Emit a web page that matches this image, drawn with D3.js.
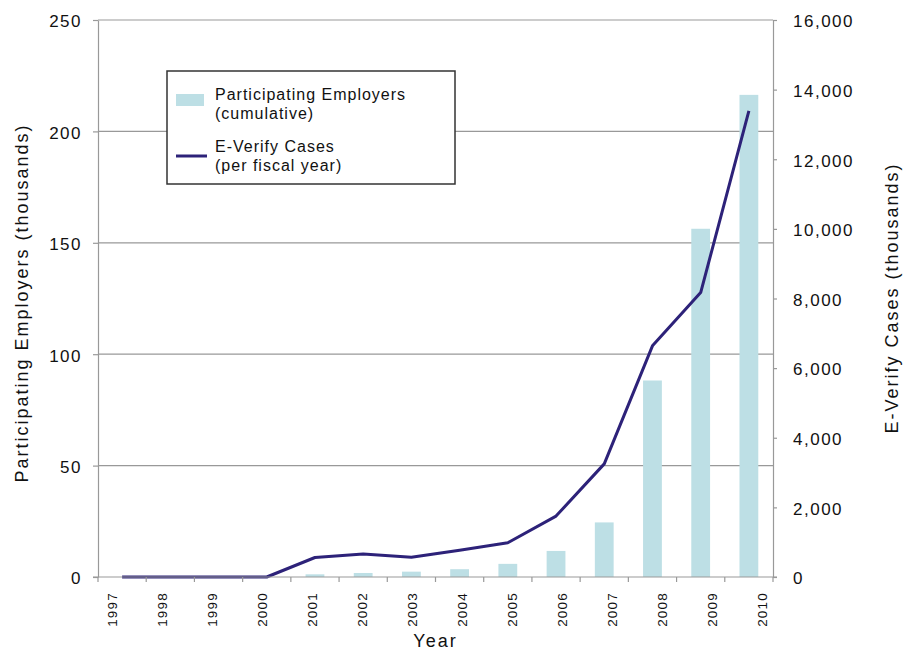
<!DOCTYPE html>
<html lang="en">
<head>
    <meta charset="UTF-8">
    <title>E-Verify Participating Employers and Cases</title>
    <script src="https://d3js.org/d3.v7.min.js"></script>
    <style>
        body {
            margin: 0;
            background-color: #fff;
            font-family: "Liberation Sans", Arial, sans-serif;
        }
        .axis path, .axis line {
            stroke: #999;
            stroke-width: 1.2;
        }
        .axis text {
            fill: #111;
            font-size: 17px;
            letter-spacing: 1.5px;
        }
        .grid line {
            stroke: #999;
            stroke-width: 1.2;
        }
        .title {
            fill: #111;
            font-size: 18px;
            letter-spacing: 2px;
        }
    </style>
</head>
<body>
    <svg id="chart" width="903" height="650"></svg>
    <script>
        // Data
        const years = ["1997", "1998", "1999", "2000", "2001", "2002", "2003",
                       "2004", "2005", "2006", "2007", "2008", "2009", "2010"];
        // participating employers, cumulative (thousands)
        const employers = [0, 0, 0, 0, 1.2, 1.8, 2.4, 3.5, 5.9, 11.7, 24.5, 88.2, 156.3, 216.4];
        // E-Verify cases per fiscal year (thousands)
        const cases = [0, 0, 0, 0, 560, 660, 565, 770, 985, 1750, 3250, 6640, 8170, 13390];
        const leftTicks = [0, 50, 100, 150, 200, 250];
        const rightTicks = [0, 2000, 4000, 6000, 8000, 10000, 12000, 14000, 16000];

        const plotLeft = 98, plotRight = 773, plotTop = 20, plotBottom = 577;

        const svg = d3.select("#chart");

        const x = d3.scaleBand()
            .domain(years)
            .range([plotLeft, plotRight]);

        // year labels sit a little off the band centres in the original
        const xLabel = d3.scalePoint()
            .domain(years)
            .range([112, 762]);

        const yL = d3.scaleLinear()
            .domain([0, 250])
            .range([plotBottom, plotTop]);

        const yR = d3.scaleLinear()
            .domain([0, 16000])
            .range([plotBottom, plotTop]);

        // Gridlines
        svg.append("g")
            .attr("class", "grid")
            .selectAll("line")
            .data(leftTicks.slice(1))
            .enter().append("line")
            .attr("x1", plotLeft)
            .attr("x2", plotRight)
            .attr("y1", d => yL(d))
            .attr("y2", d => yL(d));

        // Bars
        const barW = x.bandwidth() * 0.39;
        svg.append("g")
            .selectAll("rect")
            .data(employers)
            .enter().append("rect")
            .attr("x", (d, i) => x(years[i]) + x.bandwidth() / 2 - barW / 2)
            .attr("y", d => yL(d))
            .attr("width", barW)
            .attr("height", d => plotBottom - yL(d))
            .attr("fill", "#bddfe5");

        // Line
        const line = d3.line()
            .x((d, i) => x(years[i]) + x.bandwidth() / 2)
            .y(d => yR(d));

        svg.append("path")
            .datum(cases)
            .attr("fill", "none")
            .attr("stroke", "#2d2279")
            .attr("stroke-width", 3)
            .attr("stroke-linejoin", "round")
            .attr("d", line);

        // Left axis
        svg.append("g")
            .attr("class", "axis")
            .attr("transform", `translate(${plotLeft},0)`)
            .call(d3.axisLeft(yL).tickValues(leftTicks).tickSize(5).tickSizeOuter(0).tickPadding(11))
            .selectAll("text")
            .attr("dy", "0.4em");

        // Right axis
        svg.append("g")
            .attr("class", "axis")
            .attr("transform", `translate(${plotRight},0)`)
            .call(d3.axisRight(yR).tickValues(rightTicks).tickFormat(d3.format(","))
                .tickSize(4).tickSizeOuter(0).tickPadding(16))
            .selectAll("text")
            .attr("dy", "0.4em");

        // Bottom axis: ticks on band edges
        const xAxis = svg.append("g").attr("class", "axis");
        xAxis.append("line")
            .attr("x1", plotLeft - 5)
            .attr("x2", plotRight + 4)
            .attr("y1", plotBottom)
            .attr("y2", plotBottom);
        xAxis.selectAll(".tick")
            .data(years.concat(["end"]))
            .enter().append("line")
            .attr("class", "tick")
            .attr("x1", d => d === "end" ? plotRight : x(d))
            .attr("x2", d => d === "end" ? plotRight : x(d))
            .attr("y1", plotBottom)
            .attr("y2", plotBottom + 5);
        xAxis.selectAll("text")
            .data(years)
            .enter().append("text")
            .attr("transform", d => `translate(${xLabel(d)},${plotBottom + 15}) rotate(-90)`)
            .attr("dy", "0.35em")
            .attr("text-anchor", "end")
            .style("font-size", "13.5px")
            .style("letter-spacing", "1.2px")
            .text(d => d);

        // Axis titles
        svg.append("text")
            .attr("class", "title")
            .attr("transform", "translate(28,303) rotate(-90)")
            .attr("text-anchor", "middle")
            .text("Participating Employers (thousands)");

        svg.append("text")
            .attr("class", "title")
            .attr("transform", "translate(898,298) rotate(-90)")
            .attr("text-anchor", "middle")
            .text("E-Verify Cases (thousands)");

        svg.append("text")
            .attr("class", "title")
            .attr("x", (plotLeft + plotRight) / 2)
            .attr("y", 647)
            .attr("text-anchor", "middle")
            .text("Year");

        // Legend
        const legend = svg.append("g").attr("transform", "translate(167,71)");
        legend.append("rect")
            .attr("width", 288)
            .attr("height", 113)
            .attr("fill", "#fff")
            .attr("stroke", "#333")
            .attr("stroke-width", 1.5);
        legend.append("rect")
            .attr("x", 9)
            .attr("y", 23)
            .attr("width", 28)
            .attr("height", 12)
            .attr("fill", "#bddfe5");
        legend.append("line")
            .attr("x1", 9)
            .attr("x2", 40)
            .attr("y1", 85)
            .attr("y2", 85)
            .attr("stroke", "#2d2279")
            .attr("stroke-width", 3);
        const legendText = [
            ["Participating Employers", 29],
            ["(cumulative)", 48],
            ["E-Verify Cases", 81],
            ["(per fiscal year)", 100]
        ];
        legend.selectAll("text.lt")
            .data(legendText)
            .enter().append("text")
            .attr("class", "lt")
            .attr("x", 48)
            .attr("y", d => d[1])
            .style("font-size", "16px")
            .style("letter-spacing", "1px")
            .style("fill", "#111")
            .text(d => d[0]);
    </script>
</body>
</html>
